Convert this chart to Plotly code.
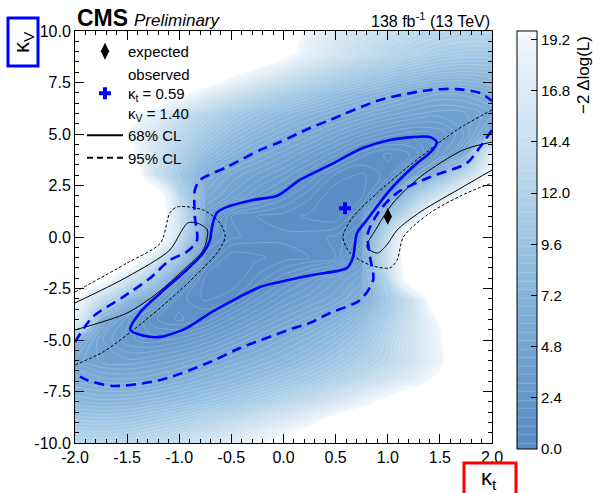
import plotly.graph_objects as go

# ---------------- data ----------------
kt_values = [-2.0, -1.75, -1.5, -1.25, -1.0, -0.75, -0.5, -0.25, 0.0,
             0.25, 0.5, 0.75, 1.0, 1.25, 1.5, 1.75, 2.0]
kv_values = [-10, -9, -8, -7, -6, -5, -4, -3, -2, -1, 0,
             1, 2, 3, 4, 5, 6, 7, 8, 9, 10]

# -2 Delta log(L), rows = kv_values (bottom to top), columns = kt_values
nll_rows = [
    [12.5, 12.5, 12.8, 13.4, 14.3, 15.5, 17, 19, 21, 25, 25, 25, 25, 25, 25, 25, 25],
    [10.2, 10.0, 10.2, 10.8, 11.5, 12.5, 13.5, 15, 16.5, 18.5, 22, 25, 25, 25, 25, 25, 25],
    [8.0, 7.7, 7.8, 8.2, 8.8, 9.5, 10.3, 11.3, 12.5, 13.8, 15.5, 18, 21, 25, 25, 25, 25],
    [6.3, 5.8, 5.7, 6.0, 6.6, 7.3, 8.0, 8.8, 9.8, 10.8, 12, 13.5, 15.5, 17.5, 21, 25, 25],
    [5.0, 4.2, 4.0, 4.3, 4.8, 5.5, 6.3, 7.0, 7.8, 8.8, 10, 11.5, 13, 15.5, 18.5, 25, 25],
    [6.3, 4.0, 2.8, 2.5, 2.9, 3.6, 4.5, 5.5, 6.4, 7.3, 8.5, 10, 12.5, 15.5, 19, 25, 25],
    [18, 5.3, 3.3, 1.6, 1.0, 1.6, 2.8, 3.8, 4.8, 5.7, 6.8, 8.5, 11.5, 15, 20, 25, 25],
    [20, 13, 7, 3.5, 1.3, 0.6, 1.0, 2.3, 3.4, 4.2, 5.0, 6.4, 10, 14.5, 25, 25, 25],
    [25, 21, 15, 10, 2.9, 0.6, 0.3, 1.2, 2.1, 3.0, 4.2, 5.3, 12, 25, 25, 25, 25],
    [25, 25, 25, 15.5, 9, 1.7, 0.4, 0.6, 0.9, 1.1, 1.5, 4.1, 14, 25, 25, 25, 25],
    [25, 25, 25, 25, 13, 2.5, 1.6, 1.3, 1.2, 1.3, 1.6, 2.5, 13, 25, 25, 25, 25],
    [25, 25, 25, 25, 14, 4.1, 1.5, 1.1, 0.9, 0.6, 0.4, 1.7, 9, 15.5, 25, 25, 25],
    [25, 25, 25, 25, 12, 5.3, 4.2, 3.0, 2.1, 1.2, 0.3, 0.6, 2.9, 10, 15, 21, 25],
    [25, 25, 25, 14.5, 10, 6.4, 5.0, 4.2, 3.4, 2.3, 1.0, 0.6, 1.3, 3.5, 7, 13, 20],
    [25, 25, 21, 15.5, 11.5, 8.5, 6.8, 5.7, 4.8, 3.8, 2.8, 1.6, 1.0, 1.6, 3.3, 5.3, 18],
    [25, 25, 20, 16, 13, 10.5, 8.7, 7.4, 6.4, 5.5, 4.5, 3.6, 2.9, 2.5, 2.8, 4.0, 6.3],
    [25, 25, 21, 17.5, 14.5, 12.3, 10.5, 9.2, 8.1, 7.2, 6.4, 5.6, 4.9, 4.4, 4.1, 4.3, 5.0],
    [25, 25, 25, 25, 21, 17, 14.5, 12.5, 11, 9.8, 8.7, 7.8, 7.0, 6.1, 5.6, 5.7, 6.4],
    [25, 25, 25, 25, 25, 25, 21, 18, 15.5, 13.5, 12, 10.8, 9.8, 9.0, 8.4, 8.2, 8.4],
    [25, 25, 25, 25, 25, 25, 25, 25, 21, 17.5, 15.5, 14, 12.8, 11.8, 11.0, 10.6, 10.6],
    [25, 25, 25, 25, 25, 25, 25, 25, 22, 18, 16.5, 15.3, 14.3, 13.4, 12.8, 12.5, 12.5],
]

# observed 68% CL contour (closed)
obs68_kt = [-1.47, -1.35, -1.18, -0.93, -0.705, -0.48, -0.225, -0.034, 0.28, 0.61, 0.667,
            0.705, 0.80, 1.02, 1.24, 1.43, 1.47, 1.405, 1.24, 1.02, 0.76, 0.446, 0.158,
            -0.06, -0.29, -0.54, -0.64, -0.686, -0.705, -0.77, -0.93, -1.18, -1.38, -1.47]
obs68_kv = [-4.51, -4.78, -4.85, -4.42, -3.69, -3.06, -2.43, -2.18, -1.84, -1.5, -0.97,
            0.19, 0.83, 2.28, 3.40, 4.22, 4.61, 4.85, 4.85, 4.71, 4.32, 3.5, 2.77,
            2.0, 1.80, 1.46, 1.17, 0.49, -0.15, -0.78, -1.6, -2.72, -3.69, -4.51]

# observed 95% CL contour (two pieces, clipped by the frame)
obs95a_kt = [-2.0, -1.83, -1.55, -1.28, -1.09, -0.93, -0.83, -0.85, -0.85, -0.80, -0.54,
             -0.225, -0.034, 0.254, 0.446, 0.926, 1.405, 1.66, 1.885, 2.0]
obs95a_kv = [-5.1, -3.88, -2.95, -2.0, -1.12, -0.73, -0.15, 0.97, 2.28, 2.77, 3.40,
             4.22, 4.61, 5.29, 5.68, 6.65, 7.14, 7.18, 6.99, 6.6]
obs95b_kt = [2.0, 1.885, 1.76, 1.405, 1.09, 0.926, 0.81, 0.83, 0.86, 0.734, 0.446, 0.254,
             0.13, -0.417, -0.705, -1.18, -1.64, -1.885, -2.0]
obs95b_kv = [5.2, 4.37, 3.59, 2.91, 2.14, 1.31, 0.19, -0.97, -2.09, -3.06, -3.69, -4.17,
             -4.37, -5.39, -6.07, -6.94, -7.23, -6.94, -6.65]

# expected 68% CL contour (two pieces)
exp68a_kt = [-2.0, -1.5, -1.09, -0.99, -0.92, -0.83, -0.73, -0.77, -0.96, -1.21, -1.5, -2.0]
exp68a_kv = [-3.2, -1.94, -0.63, 0.19, 0.68, 0.68, 0.34, -0.63, -1.6, -2.72, -3.69, -4.51]
exp68b_kt = [2.0, 1.72, 1.31, 1.05, 0.9, 0.8, 0.9, 0.99, 1.09, 1.31, 1.72, 2.0]
exp68b_kv = [4.61, 4.22, 2.91, 1.65, 0.49, -0.49, -0.78, -0.39, 0.34, 1.21, 2.43, 3.25]

# expected 95% CL contour (two pieces)
exp95a_kt = [-2.0, -1.5, -1.18, -1.09, -1.02, -0.77, -0.61, -0.56, -0.64, -1.02, -1.44,
             -1.73, -2.0]
exp95a_kv = [-2.67, -1.26, -0.29, 1.17, 1.46, 1.31, 0.68, 0.0, -0.78, -2.72, -4.51,
             -5.58, -6.21]
exp95b_kt = [2.0, 1.66, 1.24, 0.9, 0.667, 0.57, 0.64, 0.83, 1.02, 1.09, 1.15, 1.405,
             1.76, 2.0]
exp95b_kv = [6.17, 5.19, 3.59, 2.14, 0.97, 0.0, -0.78, -1.36, -1.5, -1.12, 0.0, 1.17,
             2.14, 2.62]

obs_best_kt = [0.59]
obs_best_kv = [1.40]
exp_best_kt = [1.0]
exp_best_kv = [1.0]

x_tick_vals = [-2.0, -1.5, -1.0, -0.5, 0.0, 0.5, 1.0, 1.5, 2.0]
x_tick_text = ["-2.0", "-1.5", "-1.0", "-0.5", "0.0", "0.5", "1.0", "1.5", "2.0"]
y_tick_vals = [-10, -7.5, -5, -2.5, 0, 2.5, 5, 7.5, 10]
y_tick_text = ["-10.0", "-7.5", "-5.0", "-2.5", "0.0", "2.5", "5.0", "7.5", "10.0"]
cb_tick_vals = [0.0, 2.4, 4.8, 7.2, 9.6, 12.0, 14.4, 16.8, 19.2]
cb_tick_text = ["0.0", "2.4", "4.8", "7.2", "9.6", "12.0", "14.4", "16.8", "19.2"]

# ---------------- figure ----------------
FONT = "Liberation Sans, Arial, Helvetica, sans-serif"
W, H = 593, 493
L, R, T, B = 75, 101, 31, 50
PW, PH = W - L - R, H - T - B

def px_x(x):
    return (x - L) / PW

def px_y(y):
    return (H - B - y) / PH

colorscale = [
    [0.0, "rgb(88,140,195)"],
    [0.12, "rgb(100,152,203)"],
    [0.25, "rgb(117,166,211)"],
    [0.37, "rgb(134,180,218)"],
    [0.49, "rgb(155,196,226)"],
    [0.61, "rgb(178,210,233)"],
    [0.73, "rgb(200,223,239)"],
    [0.86, "rgb(222,235,245)"],
    [0.98, "rgb(240,246,251)"],
    [1.0, "rgb(255,255,255)"],
]

fig = go.Figure()

fig.add_trace(go.Contour(
    x=kt_values, y=kv_values, z=nll_rows,
    zmin=0, zmax=19.6, zauto=False,
    colorscale=colorscale,
    contours=dict(coloring="heatmap", start=0.3, end=19.3, size=0.4, showlines=True),
    line=dict(color="rgba(255,255,255,0.3)", width=0.6, smoothing=1.0),
    showlegend=False, hoverinfo="skip",
    colorbar=dict(
        x=px_x(517), xanchor="left", xpad=0, ypad=0,
        y=1, yanchor="top", len=418, lenmode="pixels",
        thickness=20, thicknessmode="pixels",
        outlinewidth=1, outlinecolor="black",
        bgcolor="rgba(0,0,0,0)", borderwidth=0,
        tickmode="array", tickvals=cb_tick_vals, ticktext=cb_tick_text,
        ticks="inside", ticklen=6, tickcolor="black",
        tickfont=dict(family=FONT, size=15, color="black"),
    ),
))

def line_trace(xs, ys, color, width, dash):
    return go.Scatter(x=xs, y=ys, mode="lines",
                      line=dict(color=color, width=width, dash=dash, shape="spline", smoothing=0.8),
                      showlegend=False, hoverinfo="skip")

fig.add_trace(line_trace(exp95a_kt, exp95a_kv, "black", 1, "3px,2px"))
fig.add_trace(line_trace(exp95b_kt, exp95b_kv, "black", 1, "3px,2px"))
fig.add_trace(line_trace(exp68a_kt, exp68a_kv, "black", 1, "solid"))
fig.add_trace(line_trace(exp68b_kt, exp68b_kv, "black", 1, "solid"))
fig.add_trace(line_trace(obs95a_kt, obs95a_kv, "#0000ff", 2.6, "10px,6px"))
fig.add_trace(line_trace(obs95b_kt, obs95b_kv, "#0000ff", 2.6, "10px,6px"))
fig.add_trace(line_trace(obs68_kt, obs68_kv, "#0000ff", 2.6, "solid"))

fig.add_trace(go.Scatter(
    x=exp_best_kt, y=exp_best_kv, mode="markers", name="expected",
    marker=dict(symbol="diamond-tall", size=12, color="black"),
    legendgroup="a", hoverinfo="skip"))
fig.add_trace(go.Scatter(
    x=obs_best_kt, y=obs_best_kv, mode="markers",
    name="observed<br>κ<sub>t</sub> = %.2f<br>κ<sub>V</sub> = %.2f" % (obs_best_kt[0], obs_best_kv[0]),
    marker=dict(symbol="cross", size=10, color="#0000ff"),
    legendgroup="b", hoverinfo="skip"))
fig.add_trace(go.Scatter(x=[None], y=[None], mode="lines", name="68% CL",
                         line=dict(color="black", width=2), legendgroup="c"))
fig.add_trace(go.Scatter(x=[None], y=[None], mode="lines", name="95% CL",
                         line=dict(color="black", width=2, dash="6px,4px"), legendgroup="d"))

axis_common = dict(
    showgrid=False, zeroline=False, showline=True, linecolor="black", linewidth=1,
    mirror="ticks", ticks="inside", ticklen=9, tickwidth=1, tickcolor="black",
    tickfont=dict(family=FONT, size=16, color="black"), tickmode="array",
)

fig.update_layout(
    width=W, height=H,
    margin=dict(l=L, r=R, t=T, b=B, pad=0),
    paper_bgcolor="white", plot_bgcolor="white",
    font=dict(family=FONT, color="black"),
    xaxis=dict(range=[-2, 2], tickvals=x_tick_vals, ticktext=x_tick_text,
               minor=dict(tickmode="linear", tick0=-2, dtick=0.1, ticks="inside",
                          ticklen=4, tickcolor="black"),
               **axis_common),
    yaxis=dict(range=[-10, 10], tickvals=y_tick_vals, ticktext=y_tick_text,
               minor=dict(tickmode="linear", tick0=-10, dtick=0.5, ticks="inside",
                          ticklen=4, tickcolor="black"),
               **axis_common),
    legend=dict(x=px_x(82), y=px_y(35), xanchor="left", yanchor="top",
                bgcolor="rgba(0,0,0,0)", borderwidth=0, tracegroupgap=0,
                itemwidth=36,
                font=dict(family=FONT, size=15, color="black"), valign="middle"),
    showlegend=True,
)

annotations = [
    dict(text="<b>CMS</b>", x=px_x(75), y=1, xref="paper", yref="paper",
         xanchor="left", yanchor="bottom", showarrow=False,
         font=dict(family=FONT, size=23, color="black"), yshift=-2),
    dict(text="<i>Preliminary</i>", x=px_x(132), y=1, xref="paper", yref="paper",
         xanchor="left", yanchor="bottom", showarrow=False,
         font=dict(family=FONT, size=17, color="black"), yshift=-1),
    dict(text="138 fb<sup>-1</sup> (13 TeV)", x=1, y=1, xref="paper", yref="paper",
         xanchor="right", yanchor="bottom", showarrow=False,
         font=dict(family=FONT, size=16, color="black"), yshift=-1),
    dict(text="−2 Δlog(L)", x=px_x(584), y=px_y(75), xref="paper", yref="paper",
         xanchor="center", yanchor="middle", showarrow=False, textangle=-90,
         font=dict(family=FONT, size=17, color="black")),
    dict(text="κ<sub>V</sub>", x=px_x(23), y=px_y(42), xref="paper", yref="paper",
         xanchor="center", yanchor="middle", showarrow=False, textangle=-90,
         font=dict(family=FONT, size=22, color="black")),
    dict(text="κ<sub>t</sub>", x=px_x(489), y=px_y(479), xref="paper", yref="paper",
         xanchor="center", yanchor="middle", showarrow=False,
         font=dict(family=FONT, size=22, color="black")),
]
fig.update_layout(annotations=annotations)

fig.add_shape(type="rect", xref="paper", yref="paper",
              x0=px_x(8), x1=px_x(38), y0=px_y(18), y1=px_y(66),
              line=dict(color="#0000ff", width=3), fillcolor="rgba(0,0,0,0)")
fig.add_shape(type="rect", xref="paper", yref="paper",
              x0=px_x(464), x1=px_x(516), y0=px_y(463), y1=px_y(500),
              line=dict(color="#ff0000", width=3), fillcolor="rgba(0,0,0,0)")

fig.write_html("out.html")
